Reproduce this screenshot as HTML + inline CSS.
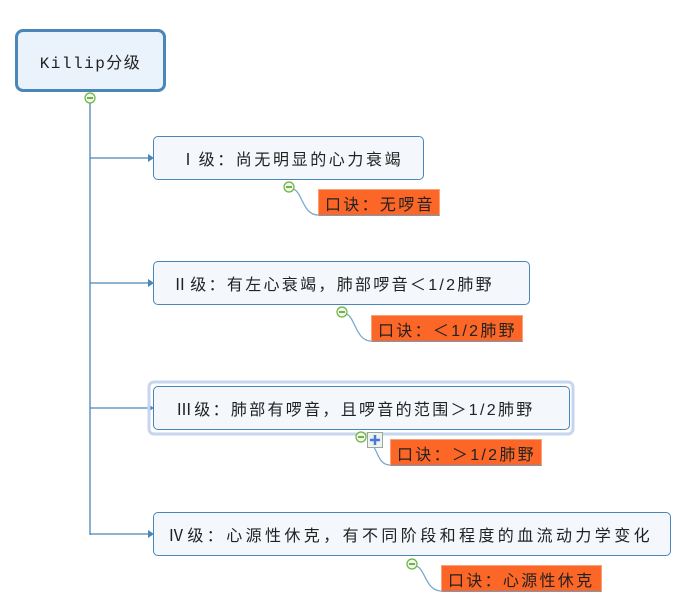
<!DOCTYPE html>
<html><head><meta charset="utf-8"><style>
body{margin:0;width:684px;height:603px;background:#fff;position:relative;overflow:hidden;font-family:"Liberation Sans","Noto Sans CJK SC",sans-serif;color:#222}
.b{position:absolute;box-sizing:border-box;border:1px solid #4a86b8;border-radius:5px;background:#f4f8fc;font-size:16px;letter-spacing:2.3px;display:flex;align-items:center;padding-left:22px;white-space:nowrap}
.o{position:absolute;box-sizing:border-box;background:#fc6626;border:1px solid #f9a27a;border-bottom:1px solid #6d9cc4;font-size:16px;letter-spacing:2.3px;display:flex;align-items:center;padding-left:6px;white-space:nowrap;color:#222}
svg{position:absolute;left:0;top:0}
</style></head><body>
<svg width="684" height="603">
<g stroke="#4a86b8" stroke-width="1.3" fill="none">
<line x1="90" y1="103" x2="90" y2="535"/>
<line x1="90" y1="158" x2="150" y2="158"/>
<line x1="90" y1="283" x2="150" y2="283"/>
<line x1="90" y1="408" x2="150" y2="408"/>
<line x1="90" y1="534" x2="150" y2="534"/>
<path d="M292 189 C302 189 302 215 318 215" stroke="#7aa8cc"/>
<path d="M345 314 C355 314 355 341 371 341" stroke="#7aa8cc"/>
<path d="M372 445 C378 450 378 465 390 465" stroke="#7aa8cc"/>
<path d="M415 566 C425 566 425 591 441 591" stroke="#7aa8cc"/>
</g>
<g fill="#4a86b8">
<path d="M148 154 L154 158 L148 162Z"/><path d="M148 279 L154 283 L148 287Z"/><path d="M148 404 L154 408 L148 412Z"/><path d="M148 530 L154 534 L148 538Z"/>
</g>
<rect x="149" y="382" width="424" height="52" rx="5" fill="none" stroke="#c5d6ee" stroke-width="3"/>
<g fill="#eef8e4" stroke="#6bb33e" stroke-width="1.2">
<circle cx="90" cy="98" r="5"/><circle cx="289" cy="187" r="5"/><circle cx="342" cy="312" r="5"/><circle cx="361" cy="437" r="5"/><circle cx="412" cy="564" r="5"/>
</g>
<g stroke="#3f8a22" stroke-width="1.4">
<line x1="87" y1="98" x2="93" y2="98"/><line x1="286" y1="187" x2="292" y2="187"/><line x1="339" y1="312" x2="345" y2="312"/><line x1="358" y1="437" x2="364" y2="437"/><line x1="409" y1="564" x2="415" y2="564"/>
</g>
<rect x="367.5" y="432.5" width="15" height="15" fill="#eef2ee" stroke="#9aa89a"/>
<g stroke="#4a78d8" stroke-width="2.5"><line x1="370" y1="440" x2="380" y2="440"/><line x1="375" y1="435" x2="375" y2="445"/></g>
</svg>
<div style="position:absolute;left:15px;top:29px;width:151px;height:63px;box-sizing:border-box;border:3px solid #4a86b8;border-radius:8px;background:#eaf2fb;display:flex;align-items:center;justify-content:center;font-family:'Liberation Mono','Noto Sans CJK SC',monospace;font-size:16px;letter-spacing:1.5px">Killip分级</div>
<div class="b" style="left:153px;top:136px;width:271px;height:44px;padding-left:26px;letter-spacing:2.6px">Ⅰ级：尚无明显的心力衰竭</div>
<div class="b" style="left:153px;top:261px;width:377px;height:44px;padding-left:18px">Ⅱ级：有左心衰竭，肺部啰音＜1/2肺野</div>
<div class="b" style="left:153px;top:386px;width:417px;height:44px;padding-left:22px">Ⅲ级：肺部有啰音，且啰音的范围＞1/2肺野</div>
<div class="b" style="left:153px;top:512px;width:518px;height:44px;padding-left:14px;letter-spacing:3.4px">Ⅳ级：心源性休克，有不同阶段和程度的血流动力学变化</div>
<div class="o" style="left:318px;top:189px;width:122px;height:27px">口诀：无啰音</div>
<div class="o" style="left:371px;top:315px;width:152px;height:27px">口诀：＜1/2肺野</div>
<div class="o" style="left:390px;top:439px;width:152px;height:27px">口诀：＞1/2肺野</div>
<div class="o" style="left:441px;top:565px;width:161px;height:27px">口诀：心源性休克</div>
</body></html>
